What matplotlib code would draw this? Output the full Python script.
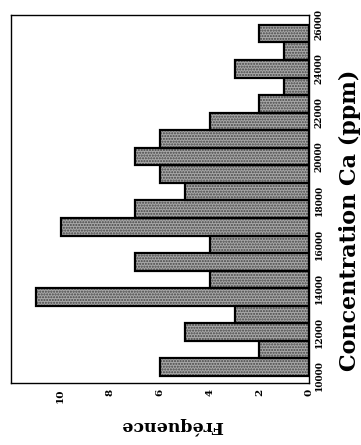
import matplotlib.pyplot as plt

# histogramme des concentrations en Ca
bin_start = [10000, 10800, 11600, 12400, 13200, 14000, 14800, 15600, 16400, 17200,
             18000, 18800, 19600, 20400, 21200, 22000, 22800, 23600, 24400, 25200]
bin_width = 800
freq = [6, 2, 5, 3, 11, 4, 7, 4, 10, 7, 5, 6, 7, 6, 4, 2, 1, 3, 1, 2]
ca_ticks = [10000, 12000, 14000, 16000, 18000, 20000, 22000, 24000, 26000]
freq_ticks = [0, 2, 4, 6, 8, 10]

fig = plt.figure(figsize=(3.61, 4.45), dpi=100)
ax = fig.add_axes([11 / 361, 62 / 445, 298 / 361, 368 / 445])

# fond pointillé gris puis contour noir
ax.barh(bin_start, freq, height=bin_width, align='edge', color='#a8a8a8',
        hatch='......', edgecolor='#444444', linewidth=0)
ax.barh(bin_start, freq, height=bin_width, align='edge', fill=False,
        edgecolor='black', linewidth=1.6)

ax.set_xlim(12, 0)
ax.set_ylim(9680, 26450)

ax.yaxis.tick_right()
ax.set_yticks(ca_ticks)
ax.set_yticklabels([str(t) for t in ca_ticks], rotation=90, va='center',
                   fontsize=6.5, fontweight='bold', family='DejaVu Serif')
ax.set_xticks(freq_ticks)
ax.set_xticklabels([str(t) for t in freq_ticks], rotation=90, ha='center',
                   fontsize=7.5, fontweight='bold', family='DejaVu Serif')
ax.tick_params(length=0, pad=4)

ax.set_ylabel('Concentration Ca (ppm)', rotation=90, fontsize=16,
              fontweight='bold', family='DejaVu Serif', ha='center', va='center')
ax.yaxis.set_label_position('right')
ax.yaxis.set_label_coords(1.1, 0.443)
ax.set_xlabel('Fréquence', rotation=180, fontsize=12.5, fontweight='bold',
              family='DejaVu Serif', ha='center', va='center')
ax.xaxis.set_label_coords(0.54, -0.115)

for s in ax.spines.values():
    s.set_linewidth(1.0)

fig.savefig('out.png', dpi=100)
